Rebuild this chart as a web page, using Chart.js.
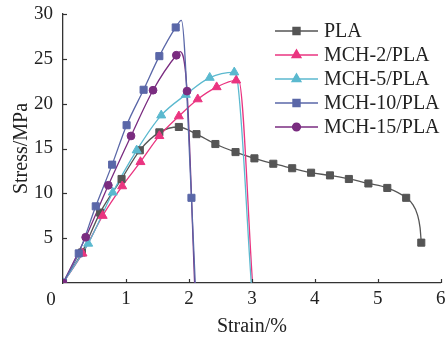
<!DOCTYPE html>
<html><head><meta charset="utf-8">
<script src="https://cdn.jsdelivr.net/npm/chart.js@4/dist/chart.umd.min.js"></script>
<style>html,body{margin:0;padding:0;background:#fff;}</style>
</head><body>
<canvas id="c" width="447" height="337" style="width:447px;height:337px;display:block"></canvas>
<script>
// ---- data ----
const seriesNames = ['PLA', 'MCH-2/PLA', 'MCH-5/PLA', 'MCH-10/PLA', 'MCH-15/PLA'];
const xTickValues = [0, 1, 2, 3, 4, 5, 6];
const yTickValues = [5, 10, 15, 20, 25, 30];

// marker points
const plaStrain   = [0, 0.30, 0.59, 0.93, 1.22, 1.53, 1.84, 2.12, 2.42, 2.74, 3.04, 3.34, 3.64, 3.94, 4.24, 4.54, 4.85, 5.15, 5.45, 5.69];
const plaStress   = [0, 3.4, 7.85, 11.6, 14.8, 16.8, 17.4, 16.6, 15.5, 14.6, 13.9, 13.3, 12.8, 12.3, 12.0, 11.6, 11.1, 10.6, 9.5, 4.5];
const mch2Strain  = [0, 0.31, 0.63, 0.94, 1.23, 1.53, 1.84, 2.14, 2.44, 2.75];
const mch2Stress  = [0, 3.3, 7.5, 10.8, 13.5, 16.4, 18.6, 20.5, 21.85, 22.6];
const mch5Strain  = [0, 0.40, 0.79, 1.17, 1.56, 1.95, 2.33, 2.72];
const mch5Stress  = [0, 4.4, 10.1, 14.8, 18.7, 21.0, 22.9, 23.5];
const mch10Strain = [0, 0.25, 0.52, 0.78, 1.01, 1.28, 1.53, 1.79, 2.04];
const mch10Stress = [0, 3.3, 8.55, 13.2, 17.6, 21.55, 25.3, 28.5, 9.5];
const mch15Strain = [0, 0.36, 0.72, 1.08, 1.43, 1.80, 1.97];
const mch15Stress = [0, 5.1, 10.9, 16.4, 21.5, 25.4, 21.4];

// extra unmarked points (peaks, fracture ends)
const plaCurveStrain   = [5.55, 5.63, 5.67];
const plaCurveStress   = [8.8, 7.6, 6.2];
const mch2CurveStrain  = [2.79, 3.01];
const mch2CurveStress  = [22.6, 0];
const mch5CurveStrain  = [2.75, 2.99];
const mch5CurveStress  = [23.3, 0];
const mch10CurveStrain = [1.88, 2.10];
const mch10CurveStress = [29.3, 0];
const mch15CurveStrain = [1.86, 2.09];
const mch15CurveStress = [25.8, 0];

// ---- styling ----
const FONT = "'Liberation Serif', 'Times New Roman', serif";
const colors = ['#555555', '#ea3580', '#5bb9cf', '#5a67a8', '#7a2c80'];
const styles = ['rect', 'triangle', 'triangle', 'rect', 'circle'];
const radii  = [5, 5.2, 5.2, 5, 3.9];

const pts = (xs, ys) => xs.map((x, i) => ({x, y: ys[i]}));
const merged = (a, b) => a.concat(b).sort((p, q) => p.x - q.x);

const markerSets = [
  pts(plaStrain, plaStress), pts(mch2Strain, mch2Stress), pts(mch5Strain, mch5Stress),
  pts(mch10Strain, mch10Stress), pts(mch15Strain, mch15Stress)
];
const extraSets = [
  pts(plaCurveStrain, plaCurveStress), pts(mch2CurveStrain, mch2CurveStress), pts(mch5CurveStrain, mch5CurveStress),
  pts(mch10CurveStrain, mch10CurveStress), pts(mch15CurveStrain, mch15CurveStress)
];
const lineOrder = [9, 8, 7, 5, 6];
const markOrder = [4, 3, 2, 1, 0];

const datasets = [];
seriesNames.forEach((name, i) => {
  datasets.push({
    label: name, data: merged(markerSets[i], extraSets[i]), showLine: true,
    borderColor: colors[i], borderWidth: 1.3, pointRadius: 0, pointHoverRadius: 0,
    cubicInterpolationMode: 'monotone', fill: false, order: lineOrder[i]
  });
  datasets.push({
    label: name + ' markers', data: markerSets[i], showLine: false,
    pointStyle: styles[i], pointRadius: radii[i], pointHoverRadius: radii[i],
    backgroundColor: colors[i], borderColor: colors[i], borderWidth: 1, order: markOrder[i]
  });
});

const decor = {
  id: 'decor',
  afterDraw(chart) {
    const ctx = chart.ctx;
    const xs = chart.scales.x, ys = chart.scales.y;
    const ca = chart.chartArea;
    ctx.save();
    // inward tick marks
    ctx.strokeStyle = '#333'; ctx.lineWidth = 1.2;
    xTickValues.forEach(v => {
      if (v === 0) return;
      const px = Math.round(xs.getPixelForValue(v)) + 0.5;
      ctx.beginPath(); ctx.moveTo(px, ca.bottom); ctx.lineTo(px, ca.bottom - 4); ctx.stroke();
    });
    yTickValues.forEach(v => {
      const py = Math.round(ys.getPixelForValue(v)) + 0.5;
      ctx.beginPath(); ctx.moveTo(ca.left, py); ctx.lineTo(ca.left + 4, py); ctx.stroke();
    });
    // shared origin label
    ctx.fillStyle = '#222';
    ctx.font = '19px ' + FONT;
    ctx.textAlign = 'center'; ctx.textBaseline = 'middle';
    ctx.fillText('0', ca.left - 12, ca.bottom + 17);
    // legend
    const lx0 = 275, lx1 = 318, ly0 = 31, dy = 24;
    ctx.font = '20px ' + FONT;
    ctx.textAlign = 'left';
    seriesNames.forEach((name, i) => {
      const y = ly0 + dy * i;
      ctx.strokeStyle = colors[i]; ctx.lineWidth = 1.3;
      ctx.beginPath(); ctx.moveTo(lx0, y); ctx.lineTo(lx1, y); ctx.stroke();
      ctx.fillStyle = colors[i];
      Chart.helpers.drawPoint(ctx, {pointStyle: styles[i], radius: radii[i], borderWidth: 1, rotation: 0}, (lx0 + lx1) / 2, y);
      ctx.fill();
      ctx.fillStyle = '#222';
      ctx.fillText(name, 324, y + 1);
    });
    ctx.restore();
  }
};

new Chart(document.getElementById('c'), {
  type: 'scatter',
  data: {datasets},
  options: {
    responsive: false, animation: false, devicePixelRatio: 1,
    layout: {padding: {top: 14, right: 5, left: 0, bottom: 0}},
    plugins: {legend: {display: false}, tooltip: {enabled: false}},
    scales: {
      x: {
        type: 'linear', min: 0, max: 6,
        afterBuildTicks: s => { s.ticks = xTickValues.map(v => ({value: v})); },
        afterFit: s => { s.height = 54; s.paddingLeft = 0; s.paddingRight = 0; },
        ticks: {font: {family: FONT, size: 19}, color: '#222', padding: 5,
                callback: v => v === 0 ? '' : String(v), maxRotation: 0},
        grid: {display: true, drawOnChartArea: false, drawTicks: false},
        border: {display: true, color: '#333', width: 1.3},
        title: {display: true, text: 'Strain/%', color: '#222',
                font: {family: FONT, size: 20, lineHeight: 1}, padding: {top: 0, bottom: 0}}
      },
      y: {
        type: 'linear', min: 0, max: 30,
        afterBuildTicks: s => { s.ticks = yTickValues.map(v => ({value: v})); },
        afterFit: s => { s.width = 63; s.paddingTop = 0; s.paddingBottom = 0; },
        ticks: {font: {family: FONT, size: 19}, color: '#222', padding: 10},
        grid: {display: true, drawOnChartArea: false, drawTicks: false},
        border: {display: true, color: '#333', width: 1.3},
        title: {display: true, text: 'Stress/MPa', color: '#222',
                font: {family: FONT, size: 20, lineHeight: 1}, padding: {top: 12, bottom: 0}}
      }
    }
  },
  plugins: [decor]
});
</script>
</body></html>
